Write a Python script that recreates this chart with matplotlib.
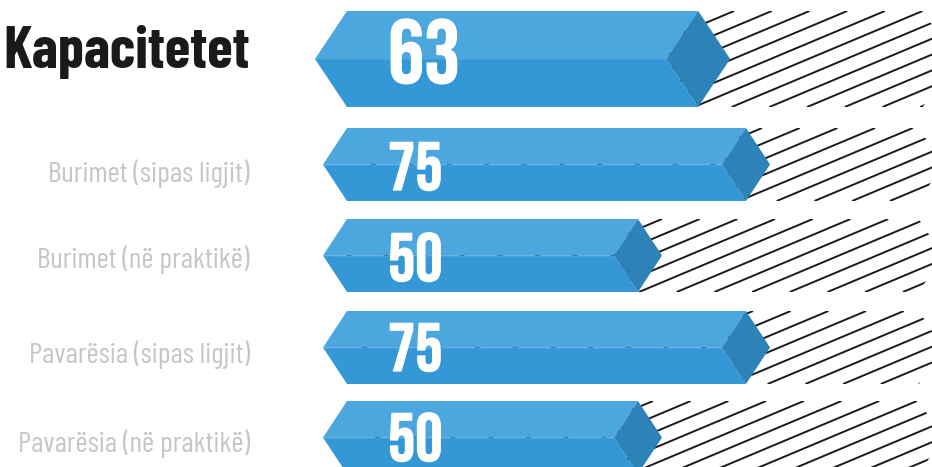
import numpy as np
import matplotlib
matplotlib.use("Agg")
import matplotlib.pyplot as plt
import matplotlib.patheffects as pe
from matplotlib.patches import Polygon

# rows, top to bottom
labels = ["Kapacitetet", "Burimet (sipas ligjit)", "Burimet (në praktikë)",
          "Pavarësia (sipas ligjit)", "Pavarësia (në praktikë)"]
values = [63, 75, 50, 75, 50]

# layout in pixels
tops = [11, 128, 219, 311, 401]
bottoms = [107, 201, 292, 384, 474]
depths = [32, 24, 24, 24, 24]
label_base = [None, 182, 268, 363, 452]
num_base = [83, 190, 281, 371, 461]
hatch_start = [694, 739, 639, 730, 630]

PX_PER_UNIT = 4.32
X_ZERO = 410
LEFT_EDGE = 347
TRACK_END = 115
HATCH_STEP = 37.7
HATCH_SLOPE = 0.42

TOP_BLUE = "#4ca7de"
LOW_BLUE = "#3398d5"
END_BLUE = "#2d82b8"
INK = "#1a1a1a"
GREY = "#c6c6c6"
COND = ["Barlow Condensed", "Roboto", "DejaVu Sans"]
DIGITS = ["Bebas Neue", "Barlow Condensed", "Roboto", "DejaVu Sans"]


def unit(p):
    return (p - X_ZERO) / PX_PER_UNIT


fig = plt.figure(figsize=(9.32, 4.67), dpi=100)
ax = fig.add_axes([0, 0, 1, 1])
ax.set_xlim(unit(0), unit(932))
ax.set_ylim(467, 0)
ax.axis("off")

for i, v in enumerate(values):
    top, bot, d = tops[i], bottoms[i], depths[i]
    mid = (top + bot) / 2
    x_left = unit(LEFT_EDGE)
    tip = unit(LEFT_EDGE - d)
    half = d / 2 / PX_PER_UNIT
    full = d / PX_PER_UNIT

    # hatched track behind the bar, same outline ending at TRACK_END
    track = Polygon([(x_left, top), (TRACK_END + half, top), (TRACK_END + half + full, mid),
                     (TRACK_END + half, bot), (x_left, bot)], closed=True, fc="none", ec="none")
    ax.add_patch(track)
    height = bot - top
    for k in range(-12, 12):
        x0 = unit(hatch_start[i] + k * HATCH_STEP)
        x1 = x0 + (height / HATCH_SLOPE) / PX_PER_UNIT
        line, = ax.plot([x0, x1], [bot, top], color=INK, lw=1.4, solid_capstyle="butt", zorder=1)
        line.set_clip_path(track)

    # faces of the bar
    ax.add_patch(Polygon([(tip, mid), (x_left, top), (v + half, top), (v - half, mid)],
                         closed=True, fc=TOP_BLUE, ec="none", zorder=2))
    ax.add_patch(Polygon([(tip, mid), (v - half, mid), (v + half, bot), (x_left, bot)],
                         closed=True, fc=LOW_BLUE, ec="none", zorder=2))
    ax.plot([tip, v - half], [mid, mid], color=TOP_BLUE, lw=0.6, alpha=0.7, zorder=2.5)
    ax.add_patch(Polygon([(v - half, mid), (v + half, top), (v + half + full, mid), (v + half, bot)],
                         closed=True, fc=END_BLUE, ec="none", zorder=3))

    size = 65 if i == 0 else 49
    num = ax.text(unit(388), num_base[i], str(v), color="white", family=DIGITS,
                  fontsize=size, va="baseline", ha="left", zorder=4)
    num.set_path_effects([pe.withStroke(linewidth=0.9, foreground="white")])
    if i > 0:
        ax.text(unit(250), label_base[i], labels[i], color=GREY, family=COND,
                fontsize=21.3, va="baseline", ha="right")

ax.text(unit(3), 68, labels[0], color=INK, family=COND, weight="bold",
        fontsize=42, va="baseline", ha="left")

plt.savefig("out.png", dpi=100)
